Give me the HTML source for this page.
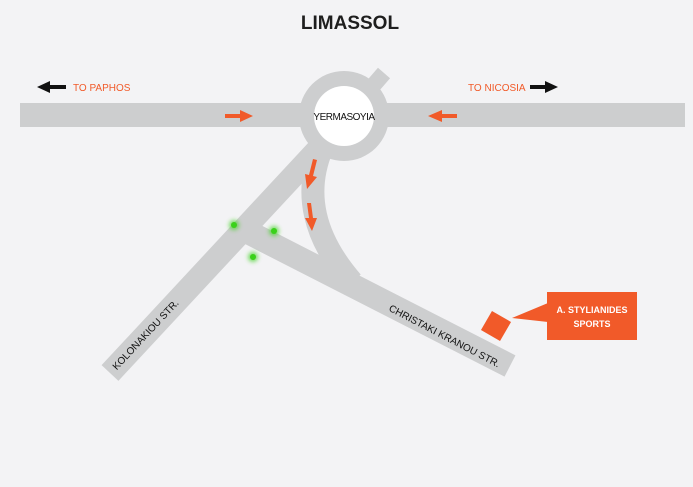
<!DOCTYPE html>
<html><head><meta charset="utf-8"><style>
html,body{margin:0;padding:0;background:#f3f3f5;}
svg{display:block}
text{font-family:"Liberation Sans",sans-serif;}
</style></head><body>
<svg width="693" height="487" viewBox="0 0 693 487" xmlns="http://www.w3.org/2000/svg">
<defs>
<filter id="g" x="-2" y="-2" width="5" height="5"><feGaussianBlur stdDeviation="2"/></filter>
</defs>
<rect width="693" height="487" fill="#f3f3f5"/>
<text x="350" y="29" font-size="19" font-weight="bold" text-anchor="middle" fill="#1e1e1e">LIMASSOL</text>
<g fill="#cdcecf" stroke="none">
<rect x="20" y="103" width="665" height="24"/>
<line x1="110" y1="373" x2="322" y2="145" stroke="#cdcecf" stroke-width="23"/>
<line x1="240" y1="228" x2="510" y2="366" stroke="#cdcecf" stroke-width="24"/>
<path d="M322 148 Q 294 215 352 282" fill="none" stroke="#cdcecf" stroke-width="23"/>
<line x1="365" y1="95" x2="384" y2="73" stroke="#cdcecf" stroke-width="16"/>
<circle cx="344" cy="116" r="45"/>
</g>
<circle cx="344" cy="116" r="30" fill="#fff"/>
<text x="344" y="120" font-size="10" text-anchor="middle" fill="#111" letter-spacing="-0.5">YERMASOYIA</text>
<g fill="#f15a29">
<rect x="225" y="114" width="16" height="4"/><polygon points="240,110 253,116 240,122"/>
<rect x="441" y="114" width="16" height="4"/><polygon points="442,110 428,116 442,122"/>
<polygon points="313,159 317,160 313,176 317,177 307,189 305,174 309,175"/>
<polygon points="307,203 311,203 313,218 317,218 312,231 305,218 309,218"/>
</g>
<g fill="#111">
<rect x="50" y="85" width="16" height="4"/><polygon points="50,81 37,87 50,93"/>
<rect x="530" y="85" width="16" height="4"/><polygon points="545,81 558,87 545,93"/>
</g>
<text x="73" y="91" font-size="10" fill="#f15a29">TO PAPHOS</text>
<text x="468" y="91" font-size="10" fill="#f15a29">TO NICOSIA</text>
<g fill="#3ad11a">
<circle cx="234" cy="225" r="5" filter="url(#g)" opacity="0.7"/><circle cx="234" cy="225" r="3"/>
<circle cx="274" cy="231" r="5" filter="url(#g)" opacity="0.7"/><circle cx="274" cy="231" r="3"/>
<circle cx="253" cy="257" r="5" filter="url(#g)" opacity="0.7"/><circle cx="253" cy="257" r="3"/>
</g>
<text transform="translate(148,337) rotate(-47)" font-size="10" text-anchor="middle" fill="#111">KOLONAKIOU STR.</text>
<text transform="translate(443,339) rotate(27.5)" font-size="10" text-anchor="middle" fill="#111">CHRISTAKI KRANOU STR.</text>
<rect x="485" y="315" width="22" height="22" fill="#f15a29" transform="rotate(30 496 326)"/>
<polygon points="512,318 548,303 548,322" fill="#f15a29"/>
<rect x="547" y="292" width="90" height="48" fill="#f15a29"/>
<text x="592" y="313" font-size="9" font-weight="bold" text-anchor="middle" fill="#fff">A. STYLIANIDES</text>
<text x="592" y="327" font-size="9" font-weight="bold" text-anchor="middle" fill="#fff">SPORTS</text>
</svg>
</body></html>
